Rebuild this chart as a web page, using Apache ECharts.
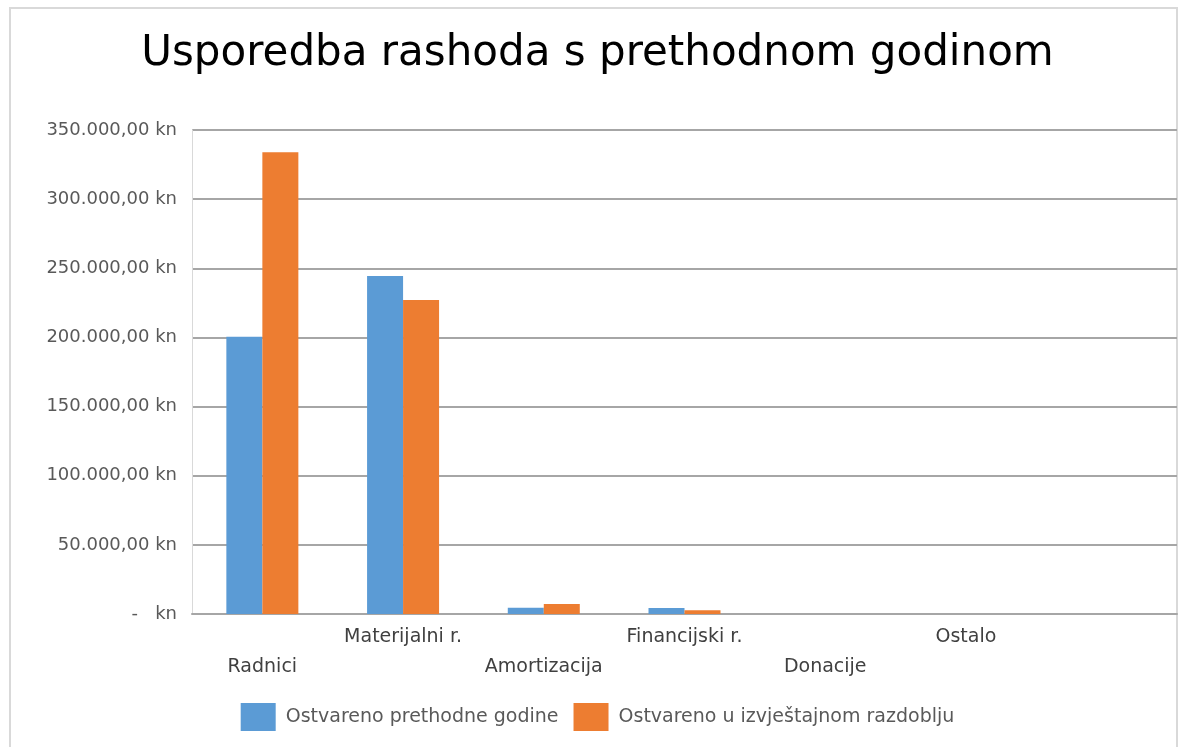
<!DOCTYPE html>
<html>
<head>
<meta charset="utf-8">
<script src="https://cdn.jsdelivr.net/npm/echarts@6/dist/echarts.min.js"></script>
<style>
  html, body { margin: 0; padding: 0; background: #fff; }
  #chart { width: 1195px; height: 747px; }
</style>
</head>
<body>
<div id="chart"></div>
<script>
// kategorije rashoda (zadnja je bez naziva)
const categories = ['Radnici', 'Materijalni r.', 'Amortizacija', 'Financijski r.', 'Donacije', 'Ostalo', '']
const legendNames = ['Ostvareno prethodne godine', 'Ostvareno u izvještajnom razdoblju']
const prevYear = [200500, 244400, 4500, 4300, 0, 0, 0]
const currentPeriod = [334000, 227000, 7200, 2700, 0, 0, 0]
const yTicks = [0, 50000, 100000, 150000, 200000, 250000, 300000, 350000]

const font = 'DejaVu Sans'

function formatKn(v) {
  if (v === 0) return '-   kn'
  const s = Math.round(v).toString().replace(/\B(?=(\d{3})+(?!\d))/g, '.')
  return s + ',00 kn'
}

const myChart = echarts.init(document.getElementById('chart'), null, { renderer: 'canvas' })

const option = {
  color: ['#5B9BD5', '#ED7D31'],
  animation: false,
  title: {
    text: 'Usporedba rashoda s prethodnom godinom',
    left: 'center',
    top: 28,
    textStyle: {
      fontFamily: font,
      fontSize: 42,
      fontWeight: 'normal',
      color: '#000',
    },
  },
  graphic: [
    {
      type: 'rect',
      shape: { x: 10, y: 8, width: 1167, height: 760 },
      style: { fill: 'none', stroke: '#d9d9d9', lineWidth: 2 },
      silent: true,
    },
  ],
  legend: {
    data: legendNames,
    left: 'center',
    top: 698,
    icon: 'rect',
    itemWidth: 35,
    itemHeight: 28,
    itemGap: 15,
    textStyle: {
      fontFamily: font,
      fontSize: 19,
      color: '#595959',
      padding: [0, 0, 0, 5],
    },
  },
  grid: {
    left: 192,
    right: 18,
    top: 130,
    bottom: 133,
  },
  xAxis: {
    type: 'category',
    data: categories,
    axisLine: { lineStyle: { color: '#a6a6a6', width: 2 } },
    axisTick: { show: false },
    axisLabel: {
      interval: 0,
      margin: 8,
      lineHeight: 30,
      fontFamily: font,
      fontSize: 19,
      color: '#404040',
      // nazivi naizmjenično u dva reda
      formatter: (value, index) => (index % 2 === 0 ? '\n' + value : value),
    },
  },
  yAxis: {
    type: 'value',
    min: yTicks[0],
    max: yTicks[yTicks.length - 1],
    interval: yTicks[1] - yTicks[0],
    axisLine: { show: true, lineStyle: { color: '#d9d9d9', width: 1 } },
    axisTick: { show: false },
    splitLine: { lineStyle: { color: '#a6a6a6', width: 2 } },
    axisLabel: {
      margin: 15,
      fontFamily: font,
      fontSize: 18,
      color: '#595959',
      formatter: formatKn,
    },
  },
  series: [
    {
      name: legendNames[0],
      type: 'bar',
      data: prevYear,
      barWidth: 36,
      barGap: '0%',
    },
    {
      name: legendNames[1],
      type: 'bar',
      data: currentPeriod,
      barWidth: 36,
      barGap: '0%',
    },
  ],
}

myChart.setOption(option)
</script>
</body>
</html>
